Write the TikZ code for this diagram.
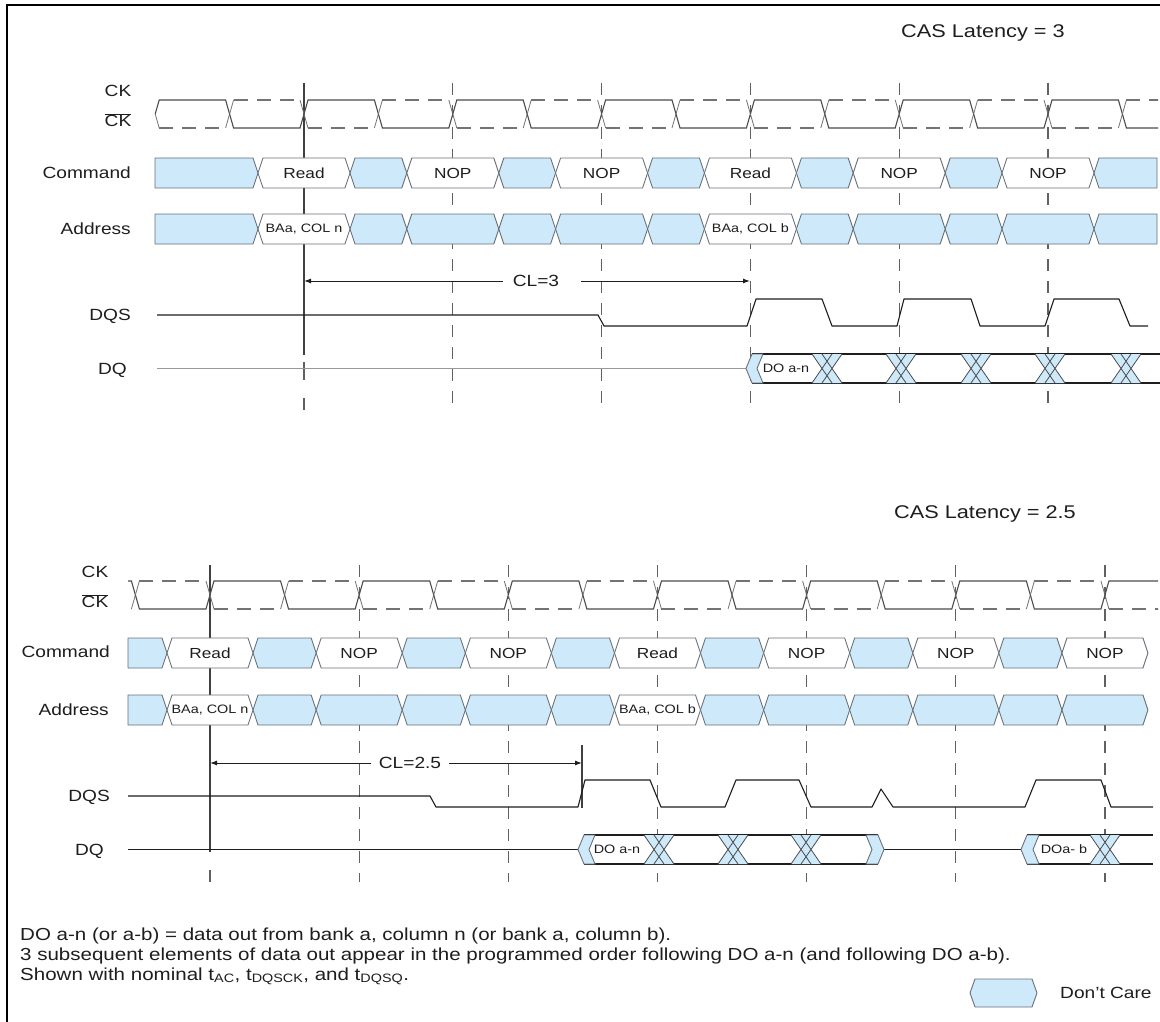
\documentclass[tikz,border=0pt]{standalone}
\usepackage{fontspec}
\setmainfont{Liberation Sans}[FakeStretch=1.18]
\usetikzlibrary{arrows.meta}
\definecolor{dcblue}{RGB}{205,233,250}
\definecolor{edgec}{RGB}{105,113,121}
\definecolor{ink}{RGB}{30,30,30}
\newcommand{\hexP}[5]{\path[#4] (#1,#3) -- (#1+5,#3-#5) -- (#2-5,#3-#5) -- (#2,#3) -- (#2-5,#3+#5) -- (#1+5,#3+#5) -- cycle;}
\newcommand{\hexL}[5]{\path[#4] (#1,#3-#5) -- (#2-5,#3-#5) -- (#2,#3) -- (#2-5,#3+#5) -- (#1,#3+#5) -- cycle;}
\newcommand{\hexR}[5]{\path[#4] (#1,#3) -- (#1+5,#3-#5) -- (#2,#3-#5) -- (#2,#3+#5) -- (#1+5,#3+#5) -- cycle;}
\newcommand{\xxcross}[4]{% center, top, bottom, mid
  \path[fill=dcblue] (#1-15,#2) -- (#1+15,#2) -- (#1+5,#4) -- (#1+15,#3) -- (#1-15,#3) -- (#1-5,#4) -- cycle;
  \draw[xxline] (#1-15,#2) -- (#1+5,#3) (#1-15,#3) -- (#1+5,#2) (#1-5,#2) -- (#1+15,#3) (#1-5,#3) -- (#1+15,#2);}
\tikzset{
  dcbox/.style={fill=dcblue, draw=edgec, line width=0.9pt, line join=round},
  wbox/.style={fill=white, draw=edgec, line width=0.9pt, line join=round},
  sig/.style={draw=ink, line width=1.1pt},
  cksolid/.style={draw=black!70, line width=1.1pt},
  ckdash/.style={draw=black!55, line width=1.1pt, dash pattern=on 14pt off 9pt},
  ckslant/.style={draw=black!55, line width=0.8pt},
  refline/.style={draw=black!62, line width=1.1pt, dash pattern=on 12pt off 10pt},
  solidref/.style={draw=black!75, line width=1.2pt},
  xxline/.style={draw=black!70, line width=0.8pt},
  ttl/.style={font=\fontsize{18.4}{21}\selectfont, text=ink, inner sep=0pt},
  lbl/.style={font=\fontsize{16.2}{19}\selectfont, text=ink, inner sep=0pt},
  btxt/.style={font=\fontsize{14.6}{17}\selectfont, text=ink, inner sep=0pt},
  stxt/.style={font=\fontsize{12.2}{14}\selectfont, text=ink, inner sep=0pt},
  fn/.style={font=\fontsize{17.4}{20}\selectfont, text=ink, inner sep=0pt},
  arr/.style={draw=ink, line width=1pt, -{Latex[length=7pt,width=5pt]}},
}
\begin{document}
\begin{tikzpicture}[x=1pt,y=-1pt]
\useasboundingbox (0,0) rectangle (1160,1022);
\fill[white] (0,0) rectangle (1160,1022);
\draw[line width=2.5pt, black] (7,1022) -- (7,5) -- (1160,5);

% ---------------- titles
\node[ttl] (cas3) at (983,33) {CAS Latency = 3};
\node[ttl] (cas25) at (985,514) {CAS Latency = 2.5};

% ================= TOP DIAGRAM =================
\node[lbl] (ckT) at (118,91) {CK};
\node[lbl] (ckbT) at (118,120) {$\overline{\mbox{CK}}$};
\node[lbl, anchor=east] (cmdlT) at (131,173) {Command};
\node[lbl, anchor=east] (adrlT) at (131,229) {Address};
\node[lbl, anchor=east] (dqslT) at (131,316) {DQS};
\node[lbl, anchor=east] (dqlT) at (127,370) {DQ};

% reference lines
\foreach \j in {1,...,5} {
  \pgfmathsetmacro\xx{304+148.8*\j}
  \draw[refline] (\xx,83) -- (\xx,410);
}
\draw[solidref] (304,83) -- (304,355);
\draw[refline, dash pattern=on 18pt off 18pt] (304,362) -- (304,410);

% clock
\begin{scope}
\clip (150,90) rectangle (1158,140);
\foreach \k in {0,...,13} {
  \pgfmathsetmacro\xa{155.2+74.4*\k}
  \pgfmathsetmacro\xb{\xa+74.4}
  \ifodd\k \def\La{128}\def\Lb{100}\else \def\La{100}\def\Lb{128}\fi
  \draw[cksolid] (\xa,114) -- (\xa+4,\La) -- (\xb-4,\La) -- (\xb,114);
  \draw[ckslant] (\xa,114) -- (\xa+4,\Lb) (\xb-4,\Lb) -- (\xb,114);
  \draw[ckdash] (\xa+4,\Lb) -- (\xb-4,\Lb);
}
\end{scope}

% command row
\hexL{155}{258}{173}{dcbox}{15}
\hexR{1094}{1157}{173}{dcbox}{15}
\foreach \j in {0,...,4} {
  \pgfmathsetmacro\ra{304+148.8*\j+46}
  \pgfmathsetmacro\rb{304+148.8*(\j+1)-46}
  \hexP{\ra}{\rb}{173}{dcbox}{15}
  \hexP{\ra}{\rb}{229}{dcbox}{15}
}
\foreach \j/\tx in {0/Read,1/NOP,2/NOP,3/Read,4/NOP,5/NOP} {
  \pgfmathsetmacro\rc{304+148.8*\j}
  \hexP{\rc-46}{\rc+46}{173}{wbox}{15}
  \node[btxt] (cmdT\j) at (\rc,173) {\tx};
}
% address row
\hexL{155}{258}{229}{dcbox}{15}
\hexR{1094}{1157}{229}{dcbox}{15}
\foreach \j in {1,2,4,5} {
  \pgfmathsetmacro\rc{304+148.8*\j}
  \hexP{\rc-46}{\rc+46}{229}{dcbox}{15}
}
\hexP{258}{350}{229}{wbox}{15}
\node[stxt] (adrT0) at (304,229) {BAa, COL n};
\hexP{704.4}{796.4}{229}{wbox}{15}
\node[stxt] (adrT3) at (750.4,229) {BAa, COL b};

% CL=3
\node[lbl] (cl3) at (536,281) {CL=3};
\draw[arr] ([xshift=-10pt]cl3.west) -- (304,281);
\draw[arr] ([xshift=22pt]cl3.east) -- (750,281);

% DQS
\draw[sig, line join=round] (157,315) -- (598,315) -- (604,326) -- (747,326) -- (756,299) -- (822,299) -- (832,326) -- (897,326) -- (904,299) -- (971,299) -- (980,326) -- (1045,326) -- (1054,299) -- (1119,299) -- (1130,326) -- (1148,326);

% DQ
\draw[draw=black!40, line width=1.4pt] (157,368.5) -- (746,368.5);
\draw[sig] (752,354) -- (1160,354);
\draw[sig] (752,383) -- (1160,383);
\path[dcbox] (746,368.5) -- (752,354) -- (763,354) -- (757,368.5) -- (763,383) -- (752,383) -- cycle;
\foreach \c in {827,901,976,1050,1126} { \xxcross{\c}{354}{383}{368.5} }
\node[stxt] (dqT) at (786,368.5) {DO a-n};

% ================= LOWER DIAGRAM =================
\node[lbl] (ckL) at (95,572) {CK};
\node[lbl] (ckbL) at (95,601) {$\overline{\mbox{CK}}$};
\node[lbl, anchor=east] (cmdlL) at (110,652) {Command};
\node[lbl, anchor=east] (adrlL) at (109,710) {Address};
\node[lbl, anchor=east] (dqslL) at (110,797) {DQS};
\node[lbl, anchor=east] (dqlL) at (104,851) {DQ};

\foreach \j in {1,...,6} {
  \pgfmathsetmacro\xx{210+149.16*\j}
  \draw[refline] (\xx,565) -- (\xx,882);
}
\draw[solidref] (210,565) -- (210,852);
\draw[refline] (210,870) -- (210,882);

\begin{scope}
\clip (128,570) rectangle (1158,620);
\foreach \k in {-1,0,...,13} {
  \pgfmathsetmacro\xa{135.4+74.58*\k}
  \pgfmathsetmacro\xb{\xa+74.58}
  \ifodd\k \def\La{581}\def\Lb{609}\else \def\La{609}\def\Lb{581}\fi
  \draw[cksolid] (\xa,595) -- (\xa+4,\La) -- (\xb-4,\La) -- (\xb,595);
  \draw[ckslant] (\xa,595) -- (\xa+4,\Lb) (\xb-4,\Lb) -- (\xb,595);
  \draw[ckdash] (\xa+4,\Lb) -- (\xb-4,\Lb);
}
\end{scope}

\hexL{128}{167}{653}{dcbox}{15}
\hexL{128}{167}{710}{dcbox}{15}
\foreach \j in {0,...,5} {
  \pgfmathsetmacro\ra{210+149.16*\j+43}
  \pgfmathsetmacro\rb{210+149.16*(\j+1)-43}
  \hexP{\ra}{\rb}{653}{dcbox}{15}
  \hexP{\ra}{\rb}{710}{dcbox}{15}
}
\foreach \j/\tx in {0/Read,1/NOP,2/NOP,3/Read,4/NOP,5/NOP,6/NOP} {
  \pgfmathsetmacro\rc{210+149.16*\j}
  \hexP{\rc-43}{\rc+43}{653}{wbox}{15}
  \node[btxt] (cmdL\j) at (\rc,653) {\tx};
}
\foreach \j in {1,2,4,5,6} {
  \pgfmathsetmacro\rc{210+149.16*\j}
  \hexP{\rc-43}{\rc+43}{710}{dcbox}{15}
}
\hexP{167}{253}{710}{wbox}{15}
\node[stxt] (adrL0) at (210,710) {BAa, COL n};
\hexP{614.5}{700.5}{710}{wbox}{15}
\node[stxt] (adrL3) at (657.5,710) {BAa, COL b};

% CL=2.5
\node[lbl] (cl25) at (410,763) {CL=2.5};
\draw[arr] ([xshift=-8pt]cl25.west) -- (210,763);
\draw[arr] ([xshift=8pt]cl25.east) -- (582,763);
\draw[solidref] (582,745) -- (582,808);

% DQS
\draw[sig, line join=round] (128,796) -- (430,796) -- (436,807) -- (578,807) -- (585,780) -- (650,780) -- (661,807) -- (725,807) -- (736,780) -- (799,780) -- (811,807) -- (872,807) -- (881,789) -- (893,807) -- (1025,807) -- (1036,780) -- (1101,780) -- (1111,807) -- (1153,807);

% DQ
\draw[sig] (128,849.5) -- (578,849.5);
\draw[sig] (884,849.5) -- (1021,849.5);
\draw[sig] (584,835) -- (878,835);
\draw[sig] (584,864) -- (878,864);
\draw[sig] (1027,835) -- (1153,835);
\draw[sig] (1027,864) -- (1153,864);
\path[dcbox] (578,849.5) -- (584,835) -- (595,835) -- (589,849.5) -- (595,864) -- (584,864) -- cycle;
\path[dcbox] (866,835) -- (878,835) -- (884,849.5) -- (878,864) -- (866,864) -- (872,849.5) -- cycle;
\path[dcbox] (1021,849.5) -- (1027,835) -- (1039,835) -- (1033,849.5) -- (1039,864) -- (1027,864) -- cycle;
\foreach \c in {659,733,806,1105} { \xxcross{\c}{835}{864}{849.5} }
\node[stxt] (dqL1) at (617,849.5) {DO a-n};
\node[stxt] (dqL2) at (1064,849.5) {DOa- b};

% ---------------- notes
\node[fn, anchor=base west] (fn1) at (20,940) {DO a-n (or a-b) = data out from bank a, column n (or bank a, column b).};
\node[fn, anchor=base west] (fn2) at (20,960) {3 subsequent elements of data out appear in the programmed order following DO a-n (and following DO a-b).};
\node[fn, anchor=base west] (fn3) at (20,980) {Shown with nominal t\textsubscript{AC}, t\textsubscript{DQSCK}, and t\textsubscript{DQSQ}.};
\hexP{970}{1037}{993}{dcbox}{14}
\node[lbl, anchor=west] (dcare) at (1060,993) {Don't Care};
\end{tikzpicture}
\end{document}
